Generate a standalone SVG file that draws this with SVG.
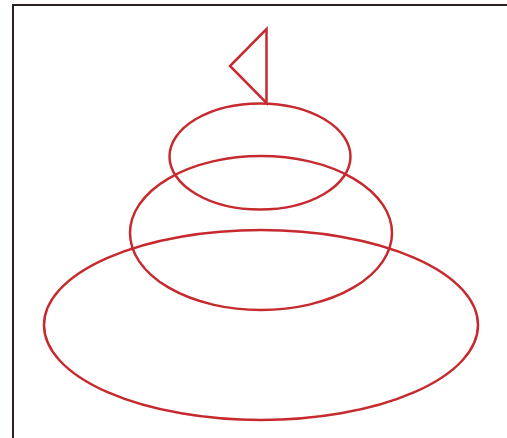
<svg xmlns="http://www.w3.org/2000/svg" width="507" height="438" viewBox="0 0 507 438">
<style>
.frame{fill:none;stroke:#2a2220;stroke-width:2}
.shape{fill:none;stroke:#c62a2f;stroke-width:2.5;stroke-linejoin:miter}
</style>
<rect width="507" height="438" fill="#ffffff"/>
<path class="frame" d="M13,438 V5 H507"/>
<g id="base"><ellipse class="shape" cx="261" cy="325" rx="217" ry="95"/></g>
<g id="middle"><ellipse class="shape" cx="261" cy="233" rx="131" ry="77"/></g>
<g id="top"><ellipse class="shape" cx="260" cy="156.5" rx="90.5" ry="53"/></g>
<g id="flag"><path class="shape" d="M266.5,103 V29 L230,66 Z"/></g>
</svg>
